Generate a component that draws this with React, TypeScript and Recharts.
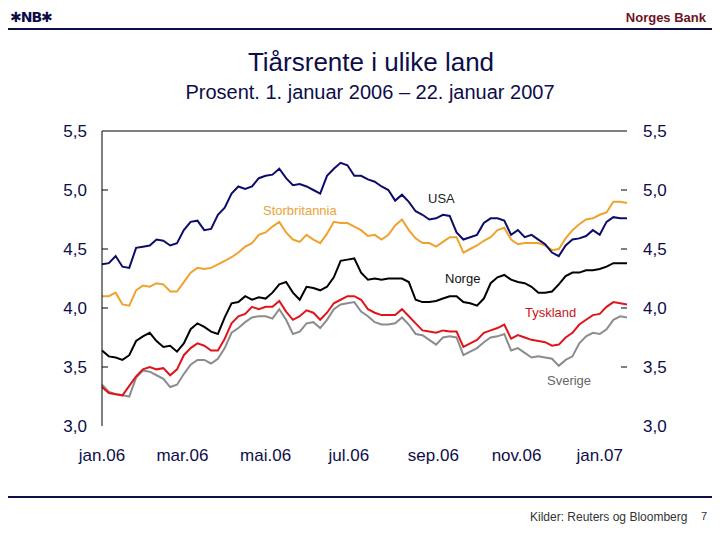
import { Line, LineChart, ReferenceLine, XAxis, YAxis } from "recharts";

// one point every 5 days, day 0 = 1. januar 2006
const DAYS = [
  0, 5, 10, 15, 20, 25, 30, 35, 40, 45, 50, 55, 60, 65, 70, 75, 80, 85, 90, 95,
  100, 105, 110, 115, 120, 125, 130, 135, 140, 145, 150, 155, 160, 165, 170, 175, 180, 185, 190, 195,
  200, 205, 210, 215, 220, 225, 230, 235, 240, 245, 250, 255, 260, 265, 270, 275, 280, 285, 290, 295,
  300, 305, 310, 315, 320, 325, 330, 335, 340, 345, 350, 355, 360, 365, 370, 375, 380, 385
];

const USA = [
  4.37, 4.38, 4.44, 4.35, 4.34, 4.51, 4.52, 4.53, 4.58, 4.57, 4.53, 4.55, 4.66, 4.73, 4.74, 4.66, 4.67, 4.79, 4.85, 4.97,
  5.03, 5.01, 5.03, 5.1, 5.12, 5.13, 5.18, 5.1, 5.04, 5.05, 5.03, 5.0, 4.97, 5.12, 5.18, 5.23, 5.21, 5.12, 5.12, 5.09,
  5.07, 5.03, 5.0, 4.91, 4.96, 4.9, 4.82, 4.79, 4.75, 4.76, 4.79, 4.78, 4.64, 4.58, 4.6, 4.62, 4.72, 4.76, 4.76, 4.74,
  4.62, 4.66, 4.6, 4.62, 4.58, 4.54, 4.47, 4.44, 4.53, 4.58, 4.59, 4.61, 4.66, 4.62, 4.73, 4.77, 4.76, 4.76
];

const UK = [
  4.1, 4.1, 4.13, 4.03, 4.02, 4.15, 4.19, 4.18, 4.21, 4.2, 4.14, 4.14, 4.22, 4.3, 4.34, 4.33, 4.34, 4.37, 4.4, 4.43,
  4.47, 4.52, 4.55, 4.62, 4.64, 4.69, 4.73, 4.64, 4.58, 4.56, 4.62, 4.58, 4.55, 4.63, 4.73, 4.72, 4.72, 4.69, 4.66, 4.61,
  4.62, 4.58, 4.62, 4.7, 4.75, 4.66, 4.59, 4.55, 4.55, 4.52, 4.56, 4.6, 4.6, 4.47, 4.5, 4.53, 4.57, 4.6, 4.66, 4.68,
  4.58, 4.54, 4.55, 4.55, 4.55, 4.53, 4.49, 4.5, 4.59, 4.66, 4.71, 4.75, 4.76, 4.79, 4.81, 4.9, 4.9, 4.89
];

const NORWAY = [
  3.64, 3.59, 3.58, 3.56, 3.6, 3.72, 3.76, 3.79, 3.72, 3.67, 3.68, 3.63, 3.7, 3.82, 3.87, 3.84, 3.8, 3.78, 3.92, 4.04,
  4.05, 4.1, 4.07, 4.09, 4.08, 4.13, 4.2, 4.22, 4.13, 4.07, 4.18, 4.17, 4.15, 4.18, 4.26, 4.4, 4.41, 4.42, 4.3, 4.24,
  4.25, 4.24, 4.25, 4.25, 4.25, 4.22, 4.07, 4.05, 4.05, 4.06, 4.08, 4.1, 4.1, 4.05, 4.04, 4.02, 4.08, 4.21, 4.26, 4.28,
  4.24, 4.22, 4.21, 4.18, 4.13, 4.13, 4.14, 4.2, 4.27, 4.3, 4.3, 4.32, 4.32, 4.33, 4.35, 4.38, 4.38, 4.38
];

const GERMANY = [
  3.33, 3.28, 3.27, 3.26, 3.34, 3.42, 3.48, 3.5, 3.48, 3.49, 3.43, 3.48, 3.6, 3.66, 3.7, 3.68, 3.64, 3.64, 3.74, 3.87,
  3.93, 3.95, 4.01, 3.99, 4.01, 4.01, 4.06, 3.97, 3.9, 3.93, 3.98, 3.96, 3.9, 3.96, 4.04, 4.07, 4.1, 4.1, 4.07, 3.99,
  3.96, 3.94, 3.94, 3.94, 3.99, 3.93, 3.87, 3.81, 3.8, 3.79, 3.81, 3.8, 3.8, 3.67, 3.7, 3.73, 3.79, 3.81, 3.83, 3.86,
  3.74, 3.77, 3.75, 3.73, 3.72, 3.71, 3.68, 3.69, 3.75, 3.79, 3.86, 3.9, 3.94, 3.95, 4.01, 4.05, 4.04, 4.03
];

const SWEDEN = [
  3.35, 3.29, 3.27, 3.26, 3.25, 3.41, 3.47, 3.46, 3.43, 3.4, 3.33, 3.35, 3.44, 3.52, 3.56, 3.56, 3.53, 3.57, 3.66, 3.79,
  3.83, 3.88, 3.92, 3.93, 3.93, 3.91, 3.99, 3.9, 3.78, 3.8, 3.87, 3.88, 3.83, 3.9, 3.99, 4.03, 4.04, 4.05, 3.97, 3.93,
  3.88, 3.86, 3.86, 3.87, 3.92, 3.86, 3.78, 3.77, 3.73, 3.69, 3.75, 3.76, 3.75, 3.6, 3.63, 3.66, 3.71, 3.75, 3.76, 3.78,
  3.64, 3.66, 3.62, 3.58, 3.59, 3.58, 3.57, 3.51, 3.56, 3.59, 3.7, 3.76, 3.79, 3.78, 3.82, 3.9, 3.93, 3.92
];

const MONTH_TICKS = [0, 59, 120, 181, 243, 304, 365];
const MONTH_LABELS = ["jan.06", "mar.06", "mai.06", "jul.06", "sep.06", "nov.06", "jan.07"];
const Y_TICKS = [3, 3.5, 4, 4.5, 5, 5.5];

const NAVY = "#0d0d4a";
const FONT = "'Liberation Sans', Arial, sans-serif";
const PLOT_WIDTH = 525; // left axis at 102, right edge at 627

const data = DAYS.map((day, i) => ({
  day,
  usa: USA[i],
  uk: UK[i],
  norway: NORWAY[i],
  germany: GERMANY[i],
  sweden: SWEDEN[i]
}));

const fmt = (v: number) => v.toFixed(1).replace(".", ",");

function XTick({ x, y, payload }: any) {
  const label = MONTH_LABELS[MONTH_TICKS.indexOf(payload.value)];
  return (
    <text x={x} y={y + 35} textAnchor="middle" fill={NAVY} fontSize={17} fontFamily={FONT}>
      {label}
    </text>
  );
}

// draws the left label, an inward tick on both sides and the label on the right
function YTick({ x, y, payload }: any) {
  const inner = payload.value > 3 && payload.value < 5.5;
  const rx = x + PLOT_WIDTH;
  return (
    <g>
      {inner && <line x1={x} x2={x + 6} y1={y} y2={y} stroke="#000" />}
      {inner && <line x1={rx - 6} x2={rx} y1={y} y2={y} stroke="#000" />}
      <text x={x - 15} y={y} dy="0.36em" textAnchor="end" fill={NAVY} fontSize={17} fontFamily={FONT}>
        {fmt(payload.value)}
      </text>
      <text x={rx + 16} y={y} dy="0.36em" textAnchor="start" fill={NAVY} fontSize={17} fontFamily={FONT}>
        {fmt(payload.value)}
      </text>
    </g>
  );
}

function Tag({ text, left, top, color }: { text: string; left: number; top: number; color: string }) {
  return (
    <div style={{ position: "absolute", left, top, color, fontSize: 13, lineHeight: "14px", fontFamily: FONT }}>
      {text}
    </div>
  );
}

export default function App() {
  return (
    <div style={{ position: "absolute", left: 0, top: 0, width: 720, height: 540, background: "#fff", fontFamily: FONT }}>
      {/* header */}
      <div style={{ position: "absolute", left: 10, top: 9, fontSize: 14, fontWeight: "bold", color: NAVY, fontFamily: "'DejaVu Sans', sans-serif", letterSpacing: -1 }}>
        ✱NB✱
      </div>
      <div style={{ position: "absolute", right: 14, top: 10, fontSize: 13, fontWeight: "bold", color: "#6e1326" }}>Norges Bank</div>
      <div style={{ position: "absolute", left: 8, top: 28, width: 704, height: 2, background: NAVY }} />
      <div style={{ position: "absolute", left: 0, width: 742, top: 47, textAlign: "center", fontSize: 26, color: NAVY }}>
        Tiårsrente i ulike land
      </div>
      <div style={{ position: "absolute", left: 0, width: 740, top: 81, textAlign: "center", fontSize: 20, color: NAVY, fontFamily: "'Liberation Sans Narrow', 'Liberation Sans', Arial, sans-serif" }}>
        Prosent. 1. januar 2006 – 22. januar 2007
      </div>

      <div style={{ position: "absolute", left: 0, top: 0 }}>
        <LineChart width={720} height={540} data={data} margin={{ top: 131, right: 93, bottom: 0, left: 0 }}>
          <XAxis
            dataKey="day"
            type="number"
            domain={[0, 385]}
            ticks={MONTH_TICKS}
            interval={0}
            axisLine={false}
            tickLine={false}
            tickSize={0}
            tickMargin={0}
            height={114}
            tick={<XTick />}
          />
          <YAxis
            yAxisId="left"
            domain={[3, 5.5]}
            ticks={Y_TICKS}
            interval={0}
            width={102}
            axisLine={{ stroke: "#000" }}
            tickLine={false}
            tickSize={0}
            tickMargin={0}
            tick={<YTick />}
          />
          <ReferenceLine yAxisId="left" y={5.5} stroke="#000" strokeWidth={1} />
          <Line yAxisId="left" type="linear" dataKey="sweden" stroke="#8c8c8c" strokeWidth={2} dot={false} isAnimationActive={false} />
          <Line yAxisId="left" type="linear" dataKey="germany" stroke="#e0141b" strokeWidth={2} dot={false} isAnimationActive={false} />
          <Line yAxisId="left" type="linear" dataKey="norway" stroke="#000000" strokeWidth={2} dot={false} isAnimationActive={false} />
          <Line yAxisId="left" type="linear" dataKey="uk" stroke="#f0a22e" strokeWidth={2} dot={false} isAnimationActive={false} />
          <Line yAxisId="left" type="linear" dataKey="usa" stroke="#0c0c6a" strokeWidth={2} dot={false} isAnimationActive={false} />
        </LineChart>
      </div>

      <Tag text="Storbritannia" left={263} top={204} color="#e8a33a" />
      <Tag text="USA" left={428} top={192} color="#222" />
      <Tag text="Norge" left={445} top={272} color="#111" />
      <Tag text="Tyskland" left={525} top={306} color="#c8141b" />
      <Tag text="Sverige" left={547} top={374} color="#666" />

      {/* footer */}
      <div style={{ position: "absolute", left: 8, top: 496, width: 704, height: 2, background: NAVY }} />
      <div style={{ position: "absolute", left: 530, top: 510, fontSize: 12, color: "#333" }}>Kilder: Reuters og Bloomberg</div>
      <div style={{ position: "absolute", left: 701, top: 510, fontSize: 11, color: "#333" }}>7</div>
    </div>
  );
}
